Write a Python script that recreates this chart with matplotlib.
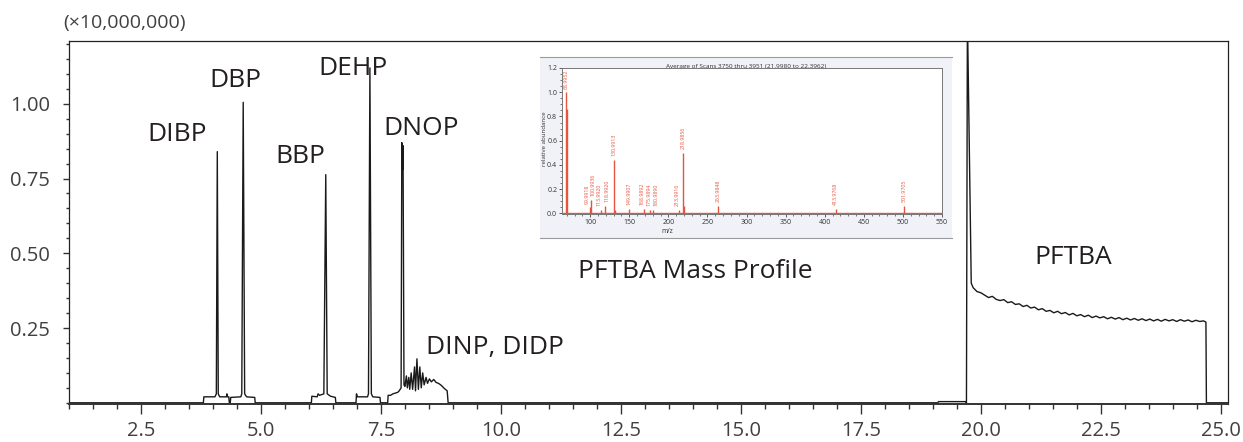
import matplotlib.pyplot as plt
from matplotlib.ticker import MultipleLocator, FixedLocator

plt.rcParams['font.family'] = ['Open Sans', 'DejaVu Sans']

# chromatogram trace (retention time in min, intensity x10^7)
rt = [1.00, 3.80, 3.81, 4.04, 4.07, 4.09, 4.11, 4.14, 4.28, 4.29, 4.30, 4.33, 4.34, 4.36, 4.37,
      4.58, 4.60, 4.63, 4.66, 4.70, 4.87, 4.88,
      6.05, 6.06, 6.17, 6.19, 6.22, 6.31, 6.35, 6.38, 6.45, 6.55, 6.56,
      6.98, 6.99, 7.01, 7.22, 7.24, 7.27, 7.30, 7.33, 7.48, 7.49,
      7.64, 7.65, 7.70, 7.75, 7.85, 7.88, 7.92, 7.935, 7.95, 7.96, 7.98,
      8.00, 8.03, 8.05, 8.08, 8.10, 8.13, 8.16, 8.20, 8.22, 8.25, 8.28, 8.31, 8.34, 8.37,
      8.40, 8.44, 8.47, 8.51, 8.55, 8.60, 8.65, 8.70, 8.76, 8.82, 8.88, 8.90,
      19.10, 19.12, 19.68, 19.70, 19.72, 19.80]
intensity = [0.0, 0.0, 0.02, 0.02, 0.03, 0.84, 0.03, 0.02, 0.02, 0.03, 0.02, 0.02, 0.0, 0.0, 0.018,
             0.02, 0.03, 1.005, 0.03, 0.02, 0.018, 0.0,
             0.0, 0.022, 0.02, 0.03, 0.025, 0.03, 0.763, 0.03, 0.022, 0.018, 0.0,
             0.0, 0.03, 0.02, 0.02, 0.03, 1.12, 0.03, 0.02, 0.018, 0.0,
             0.0, 0.025, 0.025, 0.03, 0.035, 0.04, 0.05, 0.87, 0.78, 0.86, 0.06,
             0.055, 0.09, 0.05, 0.085, 0.045, 0.10, 0.045, 0.12, 0.04, 0.147, 0.045, 0.12, 0.05, 0.10,
             0.06, 0.085, 0.065, 0.08, 0.07, 0.078, 0.068, 0.065, 0.058, 0.048, 0.04, 0.0,
             0.0, 0.004, 0.004, 0.0, 1.30, 0.40]

# PFTBA plateau (noisy tail), then drop back to baseline
tail_rt = [19.84, 19.92, 20.00, 20.08, 20.16, 20.24, 20.32, 20.40, 20.48, 20.56,
           20.64, 20.72, 20.80, 20.88, 20.96, 21.04, 21.12, 21.20, 21.28, 21.36,
           21.44, 21.52, 21.60, 21.68, 21.76, 21.84, 21.92, 22.00, 22.08, 22.16,
           22.24, 22.32, 22.40, 22.48, 22.56, 22.64, 22.72, 22.80, 22.88, 22.96,
           23.04, 23.12, 23.20, 23.28, 23.36, 23.44, 23.52, 23.60, 23.68, 23.76,
           23.84, 23.92, 24.00, 24.08, 24.16, 24.24, 24.32, 24.40, 24.48, 24.56,
           24.64, 24.69, 24.70, 25.20]
tail_int = [0.385, 0.372, 0.368, 0.360, 0.352, 0.356, 0.346, 0.342, 0.345, 0.335,
            0.338, 0.329, 0.331, 0.322, 0.326, 0.317, 0.320, 0.311, 0.315, 0.306,
            0.309, 0.301, 0.306, 0.298, 0.302, 0.294, 0.299, 0.291, 0.295, 0.288,
            0.293, 0.285, 0.290, 0.284, 0.288, 0.281, 0.286, 0.280, 0.285, 0.278,
            0.283, 0.277, 0.282, 0.276, 0.281, 0.275, 0.280, 0.274, 0.279, 0.273,
            0.279, 0.274, 0.278, 0.272, 0.278, 0.273, 0.277, 0.271, 0.276, 0.272,
            0.274, 0.270, 0.0, 0.0]

# peak names and where they sit
peak_names = ['DIBP', 'DBP', 'BBP', 'DEHP', 'DNOP', 'DINP, DIDP', 'PFTBA', 'PFTBA Mass Profile']
name_x = [3.25, 4.47, 5.83, 6.92, 8.33, 9.87, 21.93, 14.06]
name_y = [0.874, 1.056, 0.802, 1.097, 0.897, 0.163, 0.463, 0.417]

# PFTBA mass spectrum (m/z, relative abundance)
mz = [68.9952, 70.0, 99.9918, 100.9936, 113.9920, 118.9920, 130.9913, 131.9944, 149.9907,
      168.9892, 175.9894, 180.9890, 213.9916, 218.9856, 219.9890, 263.9848, 413.9768, 501.9705]
abund = [1.0, 0.86, 0.05, 0.11, 0.03, 0.06, 0.44, 0.03, 0.04,
         0.04, 0.03, 0.03, 0.03, 0.50, 0.06, 0.06, 0.04, 0.06]

fig = plt.figure(figsize=(12.43, 4.42), dpi=100)
ax = fig.add_axes([69/1243, 38/442, 1159/1243, 363/442])

ax.plot(rt + tail_rt, intensity + tail_int, color='#1a1a1a', lw=1.0)
ax.set_xlim(1.0, 25.15)
ax.set_ylim(-0.004, 1.21)

ax.xaxis.set_major_locator(FixedLocator([2.5, 5.0, 7.5, 10.0, 12.5, 15.0, 17.5, 20.0, 22.5, 25.0]))
ax.xaxis.set_minor_locator(MultipleLocator(0.5))
ax.xaxis.set_major_formatter('{x:.1f}')
ax.yaxis.set_major_locator(FixedLocator([0.25, 0.5, 0.75, 1.0]))
ax.yaxis.set_minor_locator(MultipleLocator(0.05))
ax.yaxis.set_major_formatter('{x:.2f}')
ax.tick_params(axis='x', which='major', length=7, width=1, pad=5, labelsize=14.5, labelcolor='#404040', color='#333333')
ax.tick_params(axis='x', which='minor', length=3.5, width=1, color='#333333')
ax.tick_params(axis='y', which='major', length=4.5, width=1, pad=9, labelsize=14.5, labelcolor='#404040', color='#333333')
ax.tick_params(axis='y', which='minor', length=2.5, width=1, color='#333333')
for s in ax.spines.values():
    s.set_linewidth(0.9)
    s.set_color('#222222')
ax.spines['bottom'].set_linewidth(1.4)
ax.spines['bottom'].set_color('#333333')

ax.text(-0.005, 1.036, '(×10,000,000)', transform=ax.transAxes, fontsize=14, color='#404040',
        ha='left', va='baseline')

for name, x, y in zip(peak_names, name_x, name_y):
    ax.text(x, y, name, fontsize=19, color='#231f20', ha='center', va='baseline')

# inset: screenshot of the PFTBA spectrum
bg = fig.add_axes([540/1243, 204/442, 412/1243, 181/442])
bg.set_facecolor('#f1f2f7')
bg.set_xticks([])
bg.set_yticks([])
for s in ['left', 'right']:
    bg.spines[s].set_visible(False)
bg.spines['top'].set_color('#9a9a9a')
bg.spines['bottom'].set_color('#9a9a9a')
bg.text(0.5, 0.945, 'Average of Scans 3750 thru 3951 (21.9980 to 22.3962)', transform=bg.transAxes,
        fontsize=4.6, color='#333333', ha='center', va='center')
bg.text(0.012, 0.55, 'relative abundance', transform=bg.transAxes, fontsize=4.4, color='#333333',
        rotation=90, ha='center', va='center')
bg.text(0.31, 0.035, 'm/z', transform=bg.transAxes, fontsize=4.8, color='#333333',
        ha='center', va='center')

ins = fig.add_axes([562/1243, 228/442, 380/1243, 146/442])
ins.set_facecolor('white')
ins.vlines(mz, 0, abund, color='#e8533f', lw=1.0)
ins.axhline(0, color='#e8533f', lw=1.0)
ins.set_xlim(64, 550)
ins.set_ylim(-0.005, 1.2)
ins.xaxis.set_major_locator(MultipleLocator(50))
ins.xaxis.set_minor_locator(MultipleLocator(10))
ins.yaxis.set_major_locator(MultipleLocator(0.2))
ins.yaxis.set_minor_locator(MultipleLocator(0.05))
ins.yaxis.set_major_formatter('{x:.1f}')
ins.tick_params(which='major', length=2.5, width=0.6, labelsize=5, pad=1, color='#444444', labelcolor='#333333')
ins.tick_params(which='minor', length=1.5, width=0.5, color='#444444')
for s in ins.spines.values():
    s.set_color('#777777')
    s.set_linewidth(0.7)

label_ha = ['center', None, 'right', 'left', 'right', 'left', 'center', None, 'center',
            'right', 'center', 'left', 'right', 'center', None, 'center', 'center', 'center']
for m, a, ha in zip(mz, abund, label_ha):
    if ha is None:
        continue
    ins.text(m, a + 0.03, f'{m:.4f}', rotation=90, fontsize=3.8, color='#e8533f',
             ha=ha, va='bottom')

fig.savefig('out.png', dpi=100)
